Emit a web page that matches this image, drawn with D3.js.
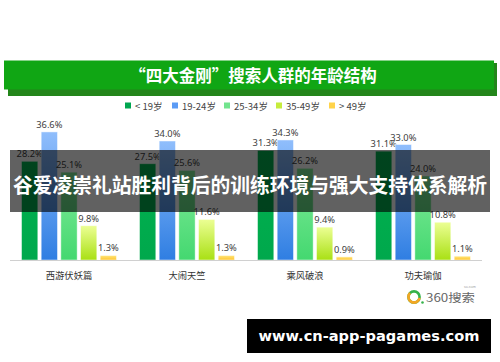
<!DOCTYPE html>
<html><head><meta charset="utf-8">
<script src="https://cdn.jsdelivr.net/npm/d3@7"></script>
<style>html,body{margin:0;padding:0;background:#fff;}svg{display:block;}</style>
</head><body>
<script>
const categories = ["西游伏妖篇", "大闹天竺", "乘风破浪", "功夫瑜伽"];
const seriesNames = ["< 19岁", "19-24岁", "25-34岁", "35-49岁", "> 49岁"];
const under19 = [28.2, 27.5, 31.3, 31.1];
const age19to24 = [36.6, 34.0, 34.3, 33.0];
const age25to34 = [25.1, 25.6, 26.2, 24.0];
const age35to49 = [9.8, 11.6, 9.4, 10.8];
const over49 = [1.3, 1.3, 0.9, 1.1];
const seriesValues = [under19, age19to24, age25to34, age35to49, over49];
const titleText = "“四大金刚”搜索人群的年龄结构";
const overlayText = "谷爱凌崇礼站胜利背后的训练环境与强大支持体系解析";
const urlText = "www.cn-app-pagames.com";

const W = 500, H = 362;
const svg = d3.select("body").append("svg").attr("width", W).attr("height", H);
const defs = svg.append("defs");
const grads = [
  ["#00b24f", "#00a84c"],
  ["#90befc", "#2f7ee2"],
  ["#7fea98", "#44d870"],
  ["#ecff94", "#a9e014"],
  ["#ffe57c", "#ffc52e"]
];
grads.forEach((g, i) => {
  const lg = defs.append("linearGradient").attr("id", "g" + i)
    .attr("x1", 0).attr("y1", 0).attr("x2", 0).attr("y2", 1);
  lg.append("stop").attr("offset", "0%").attr("stop-color", g[0]);
  lg.append("stop").attr("offset", "100%").attr("stop-color", g[1]);
});
const legendColors = ["#00a650", "#5b9bf5", "#72e48e", "#c6ec3c", "#ffd34a"];

// title banner
svg.append("rect").attr("x", 8).attr("y", 63).attr("width", 489).attr("height", 33).attr("fill", "#23851a");
svg.append("rect").attr("x", 4).attr("y", 60.5).attr("width", 490).attr("height", 29).attr("fill", "#10a614");
svg.append("text").attr("x", 253).attr("y", 81.5).attr("text-anchor", "middle")
  .attr("font-family", "'Noto Sans CJK SC'").attr("font-weight", "bold").attr("font-size", 16.5)
  .attr("fill", "#fff").text(titleText);

// legend
const legendX = [125, 172, 224, 276, 329];
seriesNames.forEach((n, i) => {
  const g = svg.append("g").attr("transform", `translate(${legendX[i]},106)`);
  g.append("rect").attr("x", 0).attr("y", -3.5).attr("width", 6).attr("height", 6).attr("fill", legendColors[i]);
  g.append("text").attr("x", 10).attr("y", 3.5).attr("font-family", "'Noto Sans CJK SC'")
    .attr("font-size", 9.5).attr("fill", "#444").text(n);
});

// scales
const x0 = d3.scaleBand().domain(categories).range([10, 482]).paddingInner(0.195).paddingOuter(0.0975);
const x1 = d3.scaleBand().domain(d3.range(seriesNames.length)).range([0, x0.bandwidth()]).paddingInner(0.17).paddingOuter(0);
const y = d3.scaleLinear().domain([0, 40]).range([260, 120]);

const groups = svg.append("g").selectAll("g").data(categories).join("g")
  .attr("transform", d => `translate(${x0(d)},0)`);
groups.each(function(cat, ci) {
  const g = d3.select(this);
  seriesValues.forEach((vals, si) => {
    const v = vals[ci];
    g.append("rect").attr("x", x1(si)).attr("y", y(v)).attr("width", x1.bandwidth())
      .attr("height", y(0) - y(v)).attr("fill", `url(#g${si})`)
      .attr("stroke", "#ffffff").attr("stroke-opacity", 0.6).attr("stroke-width", 0.8);
    g.append("text").attr("x", x1(si) + x1.bandwidth() / 2).attr("y", y(v) - 4)
      .attr("text-anchor", "middle").attr("font-family", "'Noto Sans'").attr("font-size", 9.3)
      .attr("fill", "#404040").text(v.toFixed(1) + "%");
  });
});

// baseline
svg.append("line").attr("x1", 10).attr("x2", 482).attr("y1", y(0) + 0.5).attr("y2", y(0) + 0.5)
  .attr("stroke", "#d0d0d0").attr("stroke-width", 1);

// category axis labels
const xAxis = svg.append("g").attr("transform", `translate(0,${y(0)})`)
  .call(d3.axisBottom(x0).tickSize(0).tickPadding(12));
xAxis.select(".domain").remove();
xAxis.selectAll("text").attr("font-family", "'Noto Sans CJK SC'").attr("font-size", 9.3).attr("fill", "#333");

// 360 logo
const logo = svg.append("g").attr("transform", "translate(414,297)");
logo.append("circle").attr("r", 5.6).attr("fill", "none").attr("stroke", "#36b24a").attr("stroke-width", 2.6);
logo.append("path").attr("d", d3.arc()({innerRadius: 4.3, outerRadius: 6.9, startAngle: Math.PI * 0.55, endAngle: Math.PI * 1.75}))
  .attr("fill", "#f5a623");
logo.append("circle").attr("cx", 8.5).attr("cy", 5.5).attr("r", 1.3).attr("fill", "#36b24a");
logo.append("text").attr("x", 12).attr("y", 5).attr("font-family", "'Noto Sans CJK SC'").attr("font-size", 11.5)
  .attr("fill", "#666").attr("textLength", 49).attr("lengthAdjust", "spacingAndGlyphs").text("360搜索");
logo.append("text").attr("x", 50).attr("y", -9.5).attr("font-family", "'Noto Sans'").attr("font-size", 3.5)
  .attr("fill", "#999").text("so.com");

// overlay banner
svg.append("rect").attr("x", 10).attr("y", 150).attr("width", 480).attr("height", 62).attr("fill", "rgba(0,0,0,0.62)");
svg.append("text").attr("x", 250).attr("y", 192.5).attr("text-anchor", "middle")
  .attr("font-family", "'Noto Sans CJK SC'").attr("font-weight", "bold").attr("font-size", 20.6)
  .attr("textLength", 474).attr("lengthAdjust", "spacingAndGlyphs")
  .attr("fill", "#fff").text(overlayText);

// url box
svg.append("rect").attr("x", 247).attr("y", 319).attr("width", 244).attr("height", 34).attr("fill", "#000");
svg.append("text").attr("x", 369).attr("y", 341).attr("text-anchor", "middle")
  .attr("font-family", "'DejaVu Sans'").attr("font-weight", "bold").attr("font-size", 14.6)
  .attr("fill", "#fff").text(urlText);
</script>
</body></html>
